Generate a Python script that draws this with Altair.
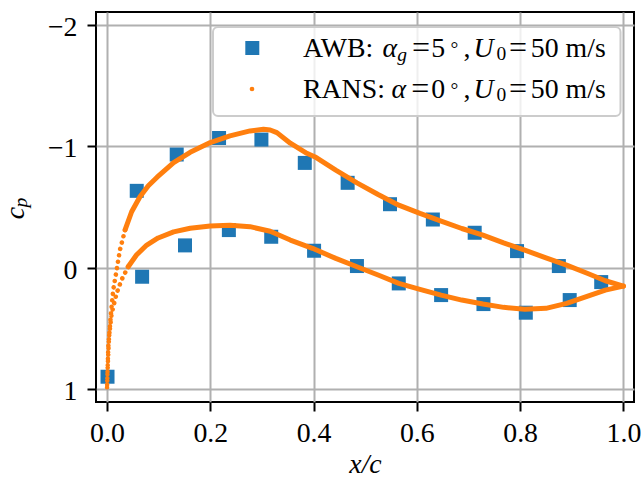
import altair as alt
import pandas as pd

# ---------------- data ----------------
awb_upper_x = [0.0576, 0.135, 0.217, 0.299, 0.383, 0.466, 0.548, 0.631, 0.712, 0.794, 0.875, 0.957]
awb_upper_cp = [-0.633, -0.932, -1.068, -1.055, -0.863, -0.699, -0.523, -0.397, -0.288, -0.137, -0.014, 0.118]
awb_lower_x = [0.001, 0.068, 0.151, 0.236, 0.318, 0.401, 0.484, 0.565, 0.647, 0.729, 0.811, 0.896]
awb_lower_cp = [0.897, 0.074, -0.184, -0.310, -0.255, -0.140, -0.014, 0.129, 0.225, 0.299, 0.370, 0.266]

rans_upper_x = [0.000, 0.0025, 0.0077, 0.012, 0.0186, 0.025, 0.035, 0.0477, 0.0638, 0.080, 0.097,
                0.129, 0.161, 0.200, 0.238, 0.277, 0.303, 0.316, 0.329, 0.355, 0.387, 0.403,
                0.443, 0.484, 0.525, 0.565, 0.606, 0.647, 0.687, 0.728, 0.768, 0.809, 0.850,
                0.890, 0.931, 0.965, 1.000]
rans_upper_cp = [1.000, 0.650, 0.376, 0.184, 0.019, -0.146, -0.311, -0.461, -0.585, -0.675, -0.745,
                 -0.865, -0.950, -1.030, -1.085, -1.126, -1.140, -1.134, -1.112, -1.025, -0.942, -0.912,
                 -0.803, -0.699, -0.603, -0.515, -0.447, -0.384, -0.323, -0.268, -0.205, -0.145, -0.082,
                 -0.022, 0.047, 0.107, 0.151]
rans_lower_x = [0.000, 0.0015, 0.0039, 0.009, 0.0186, 0.028, 0.041, 0.057, 0.077, 0.099, 0.129,
                0.161, 0.200, 0.238, 0.277, 0.316, 0.355, 0.398, 0.443, 0.484, 0.525, 0.565,
                0.606, 0.647, 0.687, 0.728, 0.768, 0.809, 0.850, 0.890, 0.931, 0.965, 1.000]
rans_lower_cp = [1.000, 0.800, 0.570, 0.376, 0.211, 0.101, -0.008, -0.105, -0.187, -0.245, -0.295,
                 -0.325, -0.343, -0.349, -0.338, -0.300, -0.228, -0.160, -0.077, -0.008, 0.060, 0.129,
                 0.178, 0.225, 0.266, 0.299, 0.326, 0.342, 0.334, 0.293, 0.233, 0.184, 0.151]

x_ticks = [0.0, 0.2, 0.4, 0.6, 0.8, 1.0]
y_ticks = [-2, -1, 0, 1]

BLUE = "#1f77b4"
ORANGE = "#ff7f0e"
FONT = "Liberation Serif"
FS = 27.8
FS_SUB = 19.5
FS_EQ = 32
W, H = 538, 390
PAD_L, PAD_T = 96, 12

awb = pd.DataFrame({
    "x": awb_upper_x + awb_lower_x,
    "cp": awb_upper_cp + awb_lower_cp,
})
rans = pd.DataFrame({
    "x": rans_upper_x + rans_lower_x,
    "cp": rans_upper_cp + rans_lower_cp,
    "surface": ["upper"] * len(rans_upper_x) + ["lower"] * len(rans_lower_x),
    "p": [-i for i in range(len(rans_upper_x))] + list(range(len(rans_lower_x))),
})

xs = alt.X("x:Q", scale=alt.Scale(domain=[-0.0213, 1.0205], nice=False, zero=False),
           axis=alt.Axis(values=x_ticks, format=".1f", title="x/c",
                         labelPadding=30.5, labelBaseline="alphabetic",
                         titleY=70, titleBaseline="alphabetic", titleFontStyle="italic"))
ys = alt.Y("cp:Q", scale=alt.Scale(domain=[-2.105, 1.105], reverse=True, nice=False, zero=False),
           axis=alt.Axis(values=y_ticks, format="d", title="",
                         labelExpr="replace(datum.label, '-', '\u2212')",
                         labelPadding=10, labelBaseline="alphabetic", labelOffset=10.5))

squares = alt.Chart(awb).mark_point(shape="square", filled=True, size=196, color=BLUE,
                                    opacity=1).encode(x=xs, y=ys)

rans_dots = alt.Chart(rans).transform_filter("datum.x < 0.045").mark_line(
    color=ORANGE, strokeWidth=4.6, strokeDash=[0.01, 6.5], strokeCap="round"
).encode(x="x:Q", y="cp:Q", order="p:Q")

rans_solid = alt.Chart(rans).transform_filter("datum.x >= 0.033").mark_line(
    color=ORANGE, strokeWidth=5, strokeCap="round", strokeJoin="round"
).encode(x="x:Q", y="cp:Q", detail="surface:N", order="x:Q")


def one():
    return pd.DataFrame({"k": [0]})


def txt(s, x, y, size=FS, italic=False, angle=None, align="left"):
    kw = dict(font=FONT, fontSize=size, align=align, baseline="alphabetic", color="black")
    if italic:
        kw["fontStyle"] = "italic"
    if angle is not None:
        kw["angle"] = angle
    return alt.Chart(pd.DataFrame({"t": [s]})).mark_text(**kw).encode(
        text="t:N", x=alt.value(x - PAD_L), y=alt.value(y - PAD_T))


legend_box = alt.Chart(one()).mark_rect(
    fill="white", fillOpacity=0.8, stroke="#cccccc", strokeWidth=2, cornerRadius=5
).encode(x=alt.value(213 - PAD_L), x2=alt.value(620.5 - PAD_L),
         y=alt.value(27 - PAD_T), y2=alt.value(116 - PAD_T))

leg_sq = alt.Chart(one()).mark_point(shape="square", filled=True, size=196, color=BLUE, opacity=1).encode(
    x=alt.value(252.3 - PAD_L), y=alt.value(48 - PAD_T))
leg_dot = alt.Chart(one()).mark_circle(size=22, color=ORANGE, opacity=1).encode(
    x=alt.value(252 - PAD_L), y=alt.value(89 - PAD_T))


def math_tail(base):
    return [
        txt("\u00b0", 450.5, base - 2.5, size=FS_SUB),
        txt(",", 463.5, base),
        txt("U", 473.5, base, italic=True),
        txt("0", 496.5, base + 3, size=FS_SUB),
        txt("=", 509, base + 0.5, size=FS_EQ),
        txt("50 m/s", 530.8, base),
    ]


r1, r2 = 57.3, 98.3
legend_text = [
    txt("AWB:", 303, r1),
    txt("\u03b1", 382.5, r1, italic=True),
    txt("g", 397.3, r1 + 3.5, size=FS_SUB, italic=True),
    txt("=", 411.9, r1 + 0.5, size=FS_EQ),
    txt("5", 431.3, r1),
    *math_tail(r1),
    txt("RANS:", 303, r2),
    txt("\u03b1", 391.5, r2, italic=True),
    txt("=", 411.2, r2 + 0.5, size=FS_EQ),
    txt("0", 431.3, r2),
    *math_tail(r2),
]

ytitle = [
    txt("c", 23.8, 213, italic=True, angle=270, align="center"),
    txt("p", 26.5, 202.6, size=FS_SUB, italic=True, angle=270, align="center"),
]

chart = alt.layer(
    squares, rans_dots, rans_solid, legend_box, leg_sq, leg_dot, *legend_text, *ytitle
).properties(
    width=W, height=H,
    autosize=alt.AutoSizeParams(type="none"),
    padding={"left": PAD_L, "top": PAD_T, "right": 641 - PAD_L - W, "bottom": 477 - PAD_T - H},
    background="white",
).configure_view(
    stroke="black", strokeWidth=2
).configure_axis(
    labelFont=FONT, labelFontSize=FS, labelColor="black",
    titleFont=FONT, titleFontSize=FS, titleColor="black", titleFontWeight="normal",
    tickColor="black", tickWidth=2, tickSize=9,
    domain=False, grid=True, gridColor="#b0b0b0", gridWidth=2,
)

chart.save("out.html", embed_options={"renderer": "svg", "actions": False})
